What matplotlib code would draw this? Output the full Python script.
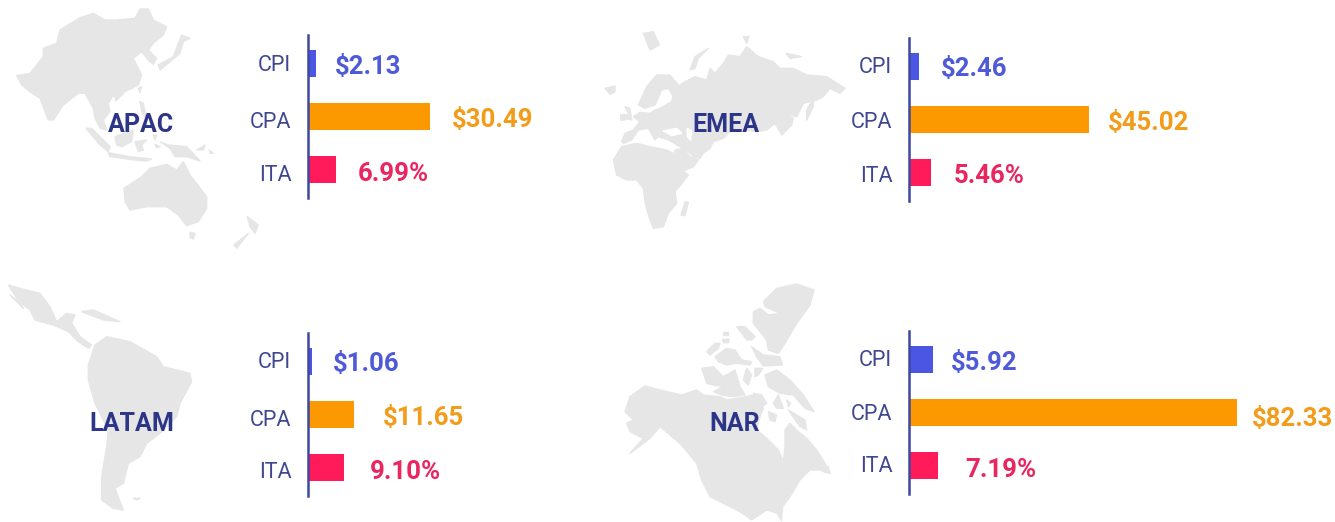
import matplotlib
matplotlib.use("Agg")
import matplotlib.pyplot as plt
from matplotlib.patches import Polygon
from matplotlib.transforms import ScaledTranslation

W, H = 1335, 522
plt.rcParams['font.family'] = ['Roboto', 'DejaVu Sans']

categories = ["CPI", "CPA", "ITA"]
regions = ["APAC", "EMEA", "LATAM", "NAR"]
apac_values = [2.13, 30.49, 6.99]
emea_values = [2.46, 45.02, 5.46]
latam_values = [1.06, 11.65, 9.10]
nar_values = [5.92, 82.33, 7.19]
value_formats = ["${:.2f}", "${:.2f}", "{:.2f}%"]

BAR_COLORS = ["#4B57E2", "#FC9800", "#FF1A59"]
VALUE_COLORS = ["#4F5AD8", "#F39C1A", "#E9265F"]
TICK_COLOR = "#3F478F"
REGION_COLOR = "#2C3588"
AXIS_COLOR = "#3F48A0"
MAP_COLOR = "#E6E6E6"
PX_PER_UNIT = 3.99

# layout in image pixels
panels = {
    "APAC": dict(values=apac_values, x=308, top=35, label=(141, 125), nudge=[-1, 3, 4],
                 vx=[335, 452, 358], vy=[67, 120, 174]),
    "EMEA": dict(values=emea_values, x=909, top=38, label=(726, 125), nudge=[-2, 1, 2],
                 vx=[941, 1108, 954], vy=[69, 123, 176]),
    "LATAM": dict(values=latam_values, x=308, top=333, label=(132, 424), nudge=[-2, 3, 3],
                  vx=[333, 383, 370], vy=[364, 418, 472]),
    "NAR": dict(values=nar_values, x=909, top=331, label=(735, 424), nudge=[-2, -1, -1],
                vx=[951, 1252, 965], vy=[363, 419, 470]),
}
AX_W, AX_H = 400, 163

maps = [
    (10, 5, 3.0, [
        [(20,212),(60,205),(100,155),(100,130),(140,115),(150,75),(210,38),(250,25),(285,45),(320,45),(375,40),(390,12),(415,12),(430,45),(470,65),(460,90),(430,115),(415,135),(440,160),(430,178),(415,165),(395,140),(370,160),(385,190),(395,210),(385,240),(345,260),(320,285),(310,270),(295,295),(300,320),(280,345),(290,375),(270,370),(255,340),(250,310),(225,265),(205,265),(160,300),(130,345),(115,345),(90,280),(60,260),(35,240)],
        [(515,90),(540,100),(520,110),(510,145),(450,195),(445,180),(490,155),(505,115)],
        [(385,250),(395,245),(390,262)],
        [(315,275),(325,275),(318,288)],
        [(390,290),(400,295),(410,345),(395,320)],
        [(228,370),(245,370),(300,425),(295,440),(270,420)],
        [(295,443),(360,455),(425,462),(410,468),(375,465),(300,455)],
        [(315,395),(370,375),(365,410),(335,425),(320,420)],
        [(375,410),(410,405),(395,420),(400,435),(385,440),(380,425)],
        [(430,390),(440,390),(435,405)],
        [(450,410),(475,420),(530,425),(570,468),(530,455),(495,455),(480,430)],
        [(435,418),(450,425),(440,428)],
        [(560,435),(585,420),(580,435)],
        [(598,435),(610,445),(600,445)],
        [(342,550),(395,515),(420,490),(470,478),(500,495),(520,470),(540,510),(590,575),(590,610),(565,650),(530,662),(505,630),(470,605),(410,605),(360,615),(345,590)],
        [(540,682),(555,685),(550,702),(540,697)],
        [(712,635),(745,660),(735,685),(720,665)],
        [(715,685),(680,730),(672,720)],
    ], []),
    (600, 25, 3.0, [
        [(65,350),(75,325),(100,315),(120,290),(100,275),(120,262),(150,265),(165,255),(180,250),(215,230),(225,190),(255,170),(285,155),(320,165),(330,130),(345,145),(370,115),(385,90),(420,95),(440,65),(475,95),(520,110),(540,130),(580,130),(620,150),(680,155),(735,190),(720,205),(690,190),(670,215),(650,225),(610,235),(590,275),(550,265),(580,280),(575,300),(545,330),(525,295),(500,315),(470,320),(400,310),(370,340),(340,350),(330,370),(310,385),(300,400),(280,395),(265,380),(240,365),(205,345),(175,335),(165,345),(145,310),(115,315),(95,345),(70,355)],
        [(115,240),(140,185),(170,150),(210,150),(235,180),(220,215),(205,190),(185,195),(165,240),(135,250)],
        [(640,220),(620,255),(620,285),(640,245)],
        [(225,375),(250,370),(270,395),(295,405),(280,425),(245,440),(220,400)],
        [(40,405),(65,365),(110,355),(150,365),(200,375),(220,385),(235,430),(265,450),(250,470),(225,500),(230,535),(205,565),(190,605),(160,610),(145,570),(135,530),(130,490),(110,465),(80,465),(50,450)],
        [(255,530),(265,532),(255,572),(243,570)],
        [(15,190),(45,183),(45,200),(30,208)],
        [(75,245),(90,250),(95,285),(70,280),(85,265)],
        [(62,270),(75,268),(75,285),(62,285)],
        [(130,25),(160,20),(178,60),(150,75)],
        [(325,70),(285,95),(270,135),(285,130),(295,100)],
        [(430,35),(447,35),(440,55)],
        [(558,85),(605,95),(570,100)],
    ], [
        [(190,318),(230,310),(245,325),(215,332)],
        [(262,310),(275,318),(272,345),(262,335)],
    ]),
    (0, 270, 3.0, [
        [(25,45),(60,55),(120,70),(150,110),(170,155),(200,130),(225,135),(215,160),(240,200),(275,225),(265,235),(235,215),(205,185),(160,165),(105,150),(90,120),(30,75),(70,115)],
        [(265,285),(285,225),(320,200),(390,215),(470,260),(490,290),(570,310),(575,335),(540,400),(530,440),(480,490),(440,520),(420,560),(385,580),(370,640),(345,655),(370,720),(340,715),(305,690),(305,620),(320,530),(325,480),(285,400),(265,330)],
        [(245,125),(280,120),(360,155),(310,150)],
        [(400,685),(420,685),(410,690)],
    ], []),
    (620, 280, 3.0, [
        [(15,395),(30,350),(75,318),(120,330),(185,345),(230,330),(250,345),(300,350),(320,360),(370,352),(400,345),(420,360),(430,385),(420,410),(410,450),(440,475),(475,510),(490,545),(495,500),(495,450),(510,430),(535,455),(560,475),(590,510),(615,550),(630,580),(600,570),(570,570),(540,600),(510,650),(488,680),(484,722),(472,700),(440,690),(395,720),(375,705),(350,690),(270,650),(245,600),(230,550),(180,490),(120,440),(90,475),(30,520),(70,475),(30,455),(20,430),(40,420)],
        [(430,65),(470,25),(530,12),(582,30),(570,75),(530,130),(495,190),(475,220),(445,210),(440,180),(400,130),(400,95),(420,85),(445,105),(480,100),(435,80)],
        [(350,140),(375,140),(405,170),(395,180),(380,180)],
        [(310,155),(325,155),(325,165),(310,165)],
        [(308,178),(328,178),(325,188),(310,188)],
        [(260,215),(285,190),(300,190),(295,205),(270,225)],
        [(285,230),(320,205),(345,210),(365,240),(395,245),(390,255),(350,250),(320,255),(295,245)],
        [(395,200),(430,225),(480,230),(487,255),(430,258),(410,230)],
        [(245,265),(280,260),(310,290),(345,270),(360,320),(375,345),(340,350),(305,345),(280,335),(310,320),(280,315),(260,310)],
        [(380,265),(395,285),(385,315),(370,300)],
        [(405,265),(428,265),(415,285),(405,290)],
        [(435,285),(470,270),(510,300),(550,345),(582,395),(555,385),(520,345),(480,340),(445,320)],
        [(460,370),(475,345),(490,385),(470,385)],
        [(445,395),(470,405),(465,425),(450,420)],
        [(500,360),(512,370),(505,380)],
        [(505,390),(555,420),(560,450),(540,440)],
        [(400,340),(425,345),(440,370),(425,380)],
        [(600,560),(625,560),(630,580),(610,575)],
    ], []),
]

fig = plt.figure(figsize=(W / 100, H / 100), dpi=100, facecolor="white")

overlay = fig.add_axes([0, 0, 1, 1], zorder=1)
overlay.set_xlim(0, W)
overlay.set_ylim(H, 0)
overlay.axis("off")
overlay.patch.set_alpha(0)

for ox, oy, sc, land, lakes in maps:
    for shapes, col, z in ((land, MAP_COLOR, 1), (lakes, "white", 1.5)):
        for shape in shapes:
            pts = [(ox + x / sc, oy + y / sc) for x, y in shape]
            overlay.add_patch(Polygon(pts, closed=True, facecolor=col, edgecolor=col,
                                      linewidth=1.0, joinstyle="round", zorder=z))

for region in regions:
    p = panels[region]
    ax = fig.add_axes([p["x"] / W, 1 - (p["top"] + AX_H) / H, AX_W / W, AX_H / H], zorder=2)
    ax.patch.set_alpha(0)
    ax.barh(range(3), p["values"], height=0.51, color=BAR_COLORS, left=0, zorder=1)
    ax.set_xlim(0, AX_W / PX_PER_UNIT)
    ax.set_ylim(2.54, -0.54)
    ax.set_yticks(range(3), categories)
    ax.set_xticks([])
    ax.tick_params(axis="y", length=0, pad=12, labelsize=15.5, labelcolor=TICK_COLOR)
    for lab, dy in zip(ax.get_yticklabels(), p["nudge"]):
        lab.set_transform(lab.get_transform() + ScaledTranslation(0, -dy / 100, fig.dpi_scale_trans))
    for s in ("top", "right", "bottom"):
        ax.spines[s].set_visible(False)
    ax.spines["left"].set_color(AXIS_COLOR)
    ax.spines["left"].set_linewidth(1.8)
    ax.spines["left"].set_zorder(3)

    overlay.text(*p["label"], region, color=REGION_COLOR, fontsize=18, fontweight="bold",
                 ha="center", va="center", zorder=3)
    for val, fmt, col, vx, vy in zip(p["values"], value_formats, VALUE_COLORS, p["vx"], p["vy"]):
        overlay.text(vx, vy, fmt.format(val), color=col, fontsize=18.5, fontweight="bold",
                     ha="left", va="center", zorder=3)

fig.savefig("out.png", dpi=100, facecolor="white")
